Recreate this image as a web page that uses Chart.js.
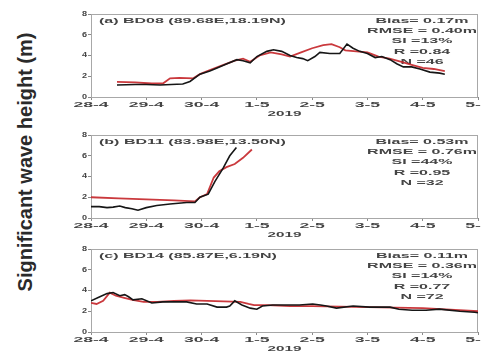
<!DOCTYPE html>
<html><head><meta charset="utf-8">
<script src="https://cdn.jsdelivr.net/npm/chart.js@4/dist/chart.umd.min.js"></script>
<style>
html,body{margin:0;padding:0;background:#fff;overflow:hidden;width:481px;height:351px;}
.pan{position:absolute;left:0;width:481px;height:120px;}
#ylab{position:absolute;left:25px;top:162px;transform:translate(-50%,-50%) rotate(-90deg);font:bold 20px 'Liberation Sans',Arial,sans-serif;color:#2a2a2a;white-space:nowrap;}
</style></head><body>
<div id="ylab">Significant wave height (m)</div>
<div class="pan" style="top:0"><canvas id="ca" width="481" height="120"></canvas></div>
<div class="pan" style="top:121px"><canvas id="cb" width="481" height="120"></canvas></div>
<div class="pan" style="top:235px"><canvas id="cc" width="481" height="120"></canvas></div>
<script>
// ---- data ----
const dayLabels = ["28-4","29-4","30-4","1-5","2-5","3-5","4-5","5-5"];
const xTitle = "2019";
const yMin = 0, yMax = 8, yStep = 2;

const titleA = "(a) BD08 (89.68E,18.19N)";
const statsA = ["Bias= 0.17m","RMSE = 0.40m","SI =13%","R =0.84","N =46"];
const aBuoyX = [0.47,0.8,1.0,1.25,1.45,1.66,1.79,1.97,2.15,2.28,2.46,2.64,2.75,2.88,3.0,3.18,3.3,3.45,3.6,3.72,3.83,3.92,4.05,4.14,4.32,4.5,4.63,4.74,4.86,5.0,5.14,5.26,5.41,5.53,5.65,5.8,5.95,6.13,6.31,6.4];
const aBuoyY = [1.15,1.2,1.2,1.15,1.2,1.25,1.5,2.2,2.5,2.8,3.2,3.6,3.5,3.3,3.9,4.4,4.55,4.4,4.0,3.8,3.7,3.5,3.9,4.3,4.2,4.2,5.1,4.7,4.4,4.2,3.8,3.9,3.6,3.2,2.9,2.9,2.7,2.4,2.3,2.2];
const aModelX = [0.47,0.8,1.1,1.3,1.43,1.6,1.85,1.97,2.15,2.35,2.6,2.75,2.88,3.05,3.25,3.45,3.6,3.8,4.0,4.2,4.35,4.5,4.6,4.8,5.0,5.2,5.4,5.6,5.8,6.0,6.2,6.4];
const aModelY = [1.45,1.4,1.3,1.3,1.8,1.85,1.8,2.2,2.6,3.0,3.5,3.7,3.4,4.0,4.3,4.1,3.9,4.3,4.7,5.0,5.1,4.8,4.5,4.4,4.3,3.9,3.7,3.4,3.1,2.8,2.7,2.5];

const titleB = "(b) BD11 (83.98E,13.50N)";
const statsB = ["Bias= 0.53m","RMSE = 0.76m","SI =44%","R =0.95","N =32"];
const bBuoyX = [0,0.15,0.29,0.4,0.52,0.62,0.74,0.85,1.0,1.19,1.43,1.73,1.88,1.97,2.12,2.24,2.39,2.51,2.63];
const bBuoyY = [1.1,1.1,1.0,1.05,1.15,1.0,0.9,0.75,1.0,1.2,1.35,1.5,1.5,2.0,2.3,3.5,4.8,6.0,6.8];
const bModelX = [0,0.5,1.0,1.5,1.88,1.97,2.1,2.22,2.32,2.45,2.6,2.75,2.91];
const bModelY = [2.0,1.9,1.8,1.7,1.6,2.0,2.3,3.9,4.5,4.9,5.2,5.8,6.6];

const titleC = "(c) BD14 (85.87E,6.19N)";
const statsC = ["Bias= 0.11m","RMSE = 0.36m","SI =14%","R =0.77","N =72"];
const cBuoyX = [0,0.16,0.29,0.4,0.52,0.61,0.68,0.76,0.92,1.1,1.3,1.55,1.73,1.91,2.1,2.28,2.45,2.51,2.6,2.73,2.88,3.0,3.1,3.29,3.54,3.77,4.01,4.15,4.26,4.44,4.74,5.04,5.41,5.57,5.81,6.06,6.3,6.67,6.94,7.0];
const cBuoyY = [3.0,3.4,3.7,3.8,3.5,3.6,3.4,3.1,3.2,2.8,2.9,2.9,2.9,2.7,2.7,2.4,2.4,2.5,3.0,2.6,2.3,2.2,2.5,2.6,2.6,2.6,2.7,2.6,2.5,2.3,2.5,2.4,2.4,2.2,2.1,2.1,2.2,2.0,1.9,1.85];
const cModelX = [0,0.1,0.22,0.34,0.45,0.6,0.75,0.95,1.2,1.5,1.8,2.1,2.4,2.7,2.85,2.95,3.2,3.6,4.0,4.5,5.0,5.5,6.0,6.5,7.0];
const cModelY = [2.8,2.7,3.0,3.8,3.5,3.3,3.1,2.9,2.9,3.0,3.05,3.0,2.95,2.9,2.7,2.6,2.6,2.5,2.5,2.45,2.4,2.35,2.3,2.15,2.0];

// ---- helpers ----
const FONT = "'Liberation Sans', Arial, sans-serif";
const TXT = '#444444';
function pts(xs, ys){ return xs.map((x,i)=>({x:x, y:ys[i]})); }

function stretch(scale, method, sx){
  const orig = scale[method];
  scale[method] = function(){
    const ctx = this.ctx;
    const f = CanvasRenderingContext2D.prototype.fillText;
    ctx.fillText = function(t,x,y){ this.save(); this.translate(x,y); this.scale(sx,1); f.call(this,t,0,0); this.restore(); };
    try { return orig.apply(this, arguments); } finally { delete ctx.fillText; }
  };
}

function stretchedText(ctx, t, x, y, sx, align){
  ctx.save();
  ctx.translate(x, y);
  ctx.scale(sx, 1);
  ctx.textAlign = align;
  ctx.fillText(t, 0, 0);
  ctx.restore();
}

const annot = {
  id: 'annot',
  beforeDatasetsDraw(chart, args, opts){
    const {ctx, chartArea:a} = chart;
    ctx.save();
    ctx.strokeStyle = '#a8a8a8';
    ctx.lineWidth = 1;
    ctx.strokeRect(Math.round(a.left)+0.5, Math.round(a.top)+0.5, Math.round(a.right-a.left)-1, Math.round(a.bottom-a.top));
    ctx.fillStyle = TXT;
    ctx.font = 'bold 8px ' + FONT;
    ctx.textBaseline = 'middle';
    stretchedText(ctx, opts.title, 99, a.top + 6.5, 2.0, 'left');
    opts.stats.forEach((s,i)=> stretchedText(ctx, s, 422, a.top + 6.5 + i*10.3, 2.0, 'center'));
    ctx.restore();
  }
};

function makePanel(id, title, stats, bx, by, mx, my){
  new Chart(document.getElementById(id), {
    type: 'line',
    data: { datasets: [
      { label:'Buoy', data: pts(bx,by), borderColor:'#161616', borderWidth:1.6, pointRadius:0, tension:0 },
      { label:'Model', data: pts(mx,my), borderColor:'rgba(196,36,40,0.9)', borderWidth:1.8, pointRadius:0, tension:0 }
    ]},
    options: {
      responsive:false, animation:false, events:[],
      layout:{ padding:{ top:14, right:3, left:0, bottom:0 } },
      plugins:{ legend:{display:false}, tooltip:{enabled:false}, annot:{ title:title, stats:stats } },
      scales:{
        x:{ type:'linear', min:0, max:7,
          ticks:{ stepSize:1, autoSkip:false, maxRotation:0, padding:0, color:TXT,
            font:{family:FONT, size:8, weight:'bold'},
            callback:(v)=> dayLabels[v] },
          grid:{ display:true, drawOnChartArea:false, drawTicks:true, tickLength:3, color:'#8a8a8a' },
          border:{ color:'#8a8a8a' },
          title:{ display:true, text:xTitle, color:TXT, font:{family:FONT, size:8, weight:'bold'}, padding:{top:0,bottom:1} },
          afterFit(s){ s.height = 23; s.paddingLeft = 0; s.paddingRight = 0;
            if(!s._st){ stretch(s,'drawLabels',2.2); stretch(s,'drawTitle',1.9); s._st = true; } }
        },
        y:{ min:yMin, max:yMax,
          ticks:{ stepSize:yStep, padding:1, color:TXT, font:{family:FONT, size:7, weight:'bold'} },
          grid:{ display:true, drawOnChartArea:false, drawTicks:true, tickLength:3, color:'#8a8a8a' },
          border:{ color:'#8a8a8a' },
          afterFit(s){ s.width = 91; if(!s._st){ stretch(s,'drawLabels',1.3); s._st = true; } }
        }
      }
    },
    plugins:[annot]
  });
}

makePanel('ca', titleA, statsA, aBuoyX, aBuoyY, aModelX, aModelY);
makePanel('cb', titleB, statsB, bBuoyX, bBuoyY, bModelX, bModelY);
makePanel('cc', titleC, statsC, cBuoyX, cBuoyY, cModelX, cModelY);
</script>
</body></html>
